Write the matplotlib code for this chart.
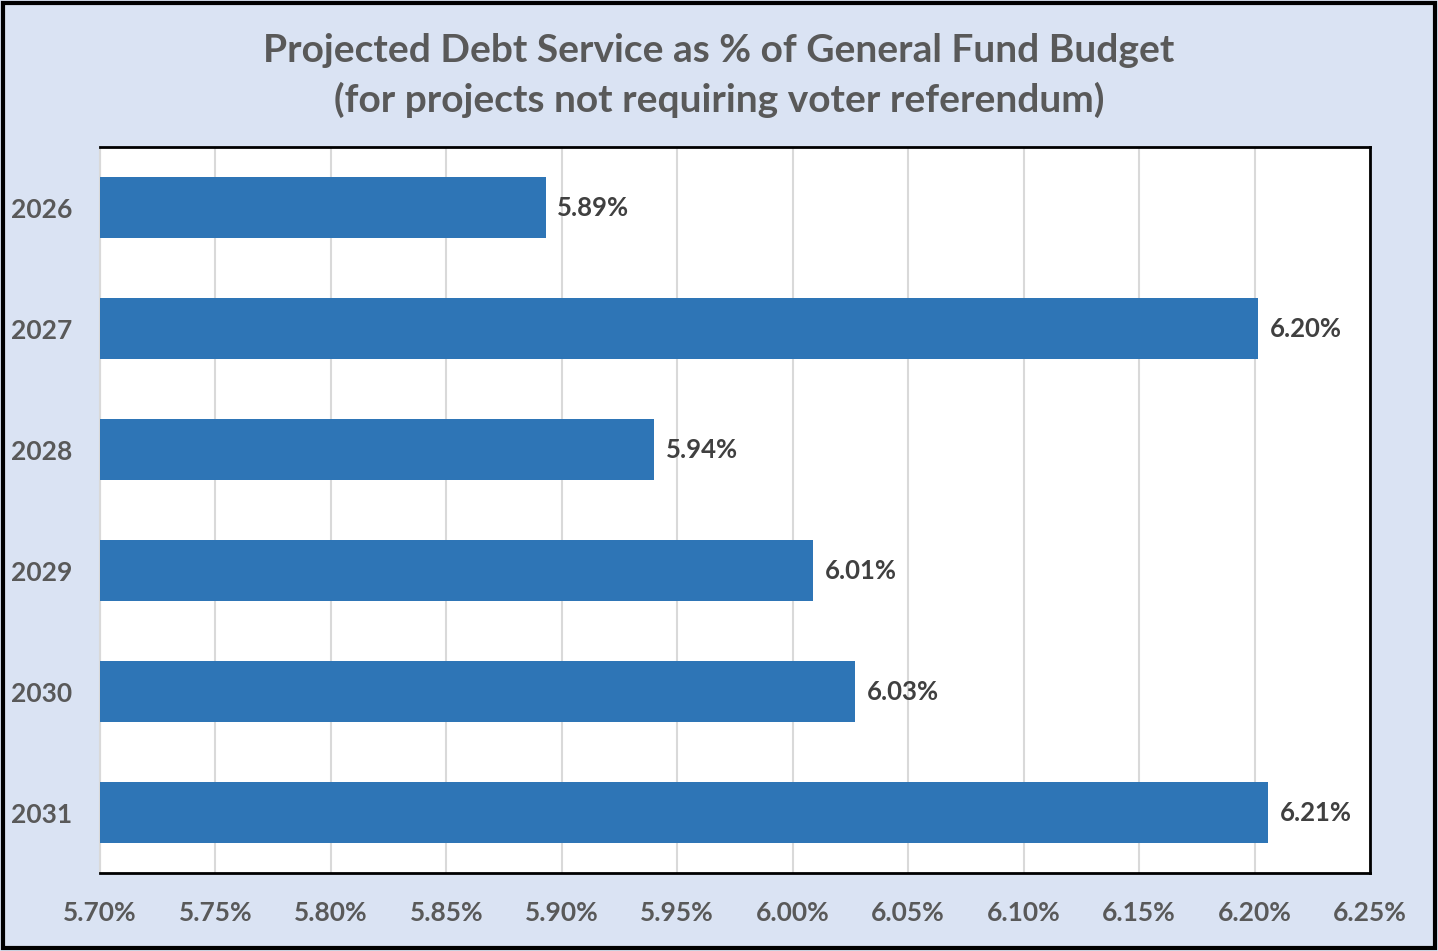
import matplotlib
matplotlib.use("Agg")
import matplotlib.pyplot as plt
from matplotlib.ticker import FuncFormatter, MultipleLocator

years = ['2026', '2027', '2028', '2029', '2030', '2031']
debt_pct = [5.893, 6.2015, 5.94, 6.009, 6.027, 6.206]
bar_labels = ['5.89%', '6.20%', '5.94%', '6.01%', '6.03%', '6.21%']

plt.rcParams['font.family'] = ['Lato', 'DejaVu Sans']
plt.rcParams['font.weight'] = 'bold'

bg = '#DAE3F3'
bar_color = '#2E75B6'
text_grey = '#595959'

fig = plt.figure(figsize=(14.38, 9.51), dpi=100, facecolor=bg)
ax = fig.add_axes([0.0695, 0.082, 0.8832, 0.7634])
ax.set_facecolor('white')

y = range(len(years))
ax.barh(y, [v - 5.70 for v in debt_pct], left=5.70, height=0.5, color=bar_color, zorder=3)
for i, (v, lab) in enumerate(zip(debt_pct, bar_labels)):
    ax.text(v + 0.005, i, lab, va='center', ha='left', fontsize=18.5,
            color='#404040', fontweight='bold', zorder=4)

ax.set_xlim(5.70, 6.25)
ax.set_ylim(5.5, -0.5)
ax.xaxis.set_major_locator(MultipleLocator(0.05))
ax.xaxis.set_major_formatter(FuncFormatter(lambda x, p: f'{x:.2f}%'))
ax.set_yticks(list(y))
ax.set_yticklabels(years)
ax.tick_params(axis='both', length=0, labelsize=19, labelcolor=text_grey)
ax.tick_params(axis='x', pad=20)
ax.tick_params(axis='y', pad=20)
ax.grid(axis='x', color='#D9D9D9', linewidth=1.5, zorder=0)

for s in ['top', 'right', 'bottom']:
    ax.spines[s].set_color('black')
    ax.spines[s].set_linewidth(2)
ax.spines['left'].set_color('#D9D9D9')
ax.spines['left'].set_linewidth(1.5)

fig.text(0.5, 1 - 50 / 951, 'Projected Debt Service as % of General Fund Budget',
         ha='center', va='center', fontsize=28, color=text_grey, fontweight='bold')
fig.text(0.5, 1 - 100 / 951, '(for projects not requiring voter referendum)',
         ha='center', va='center', fontsize=28, color=text_grey, fontweight='bold')

fig.patches.append(plt.Rectangle((0.002, 0.003), 0.996, 0.994, transform=fig.transFigure,
                                 fill=False, edgecolor='black', linewidth=3))

fig.savefig('out.png', dpi=100, facecolor=bg)
